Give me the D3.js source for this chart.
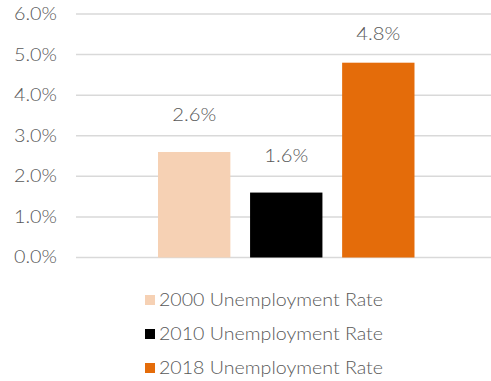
<!DOCTYPE html>
<html>
<head>
<meta charset="utf-8">
<script src="https://cdn.jsdelivr.net/npm/d3@7"></script>
<style>
  html, body { margin: 0; padding: 0; background: #fff; }
  svg text { font-family: "Lato", sans-serif; font-weight: 300; fill: #595959; }
</style>
</head>
<body>
<div id="chart"></div>
<script>
// Unemployment rates (%) by year
const seriesNames = ["2000 Unemployment Rate", "2010 Unemployment Rate", "2018 Unemployment Rate"];
const seriesValues = [2.6, 1.6, 4.8];
const seriesColors = ["#F6D1B4", "#000000", "#E46C0A"];
const yTicks = [0, 1, 2, 3, 4, 5, 6];

const W = 491, H = 381;
const FONT = 17;
const svg = d3.select("#chart").append("svg")
  .attr("width", W).attr("height", H);

const plot = { left: 76, right: 496, top: 14, bottom: 257.5 };

const y = d3.scaleLinear().domain([0, 6]).range([plot.bottom, plot.top]);

// one category; the three series bars are grouped around its center
const x = d3.scaleBand()
  .domain(seriesNames)
  .range([146.5, 426])
  .paddingInner(0.214)
  .paddingOuter(0.125);

// horizontal gridlines
svg.append("g")
  .selectAll("line")
  .data(yTicks)
  .join("line")
  .attr("x1", plot.left).attr("x2", plot.right)
  .attr("y1", d => y(d)).attr("y2", d => y(d))
  .attr("stroke", "#d9d9d9")
  .attr("stroke-width", 1.5);

// y axis labels
const yAxis = d3.axisLeft(y)
  .tickValues(yTicks)
  .tickFormat(d => d3.format(".1f")(d) + "%")
  .tickSize(0)
  .tickPadding(0);
const yg = svg.append("g")
  .attr("transform", `translate(57,0)`)
  .call(yAxis);
yg.select(".domain").remove();
yg.selectAll("text")
  .attr("font-size", FONT)
  .attr("font-family", "Lato, sans-serif")
  .attr("font-weight", 300)
  .attr("fill", "#595959")
  .attr("textLength", 43)
  .attr("lengthAdjust", "spacingAndGlyphs");

// bars
svg.append("g")
  .selectAll("rect")
  .data(seriesValues)
  .join("rect")
  .attr("x", (d, i) => x(seriesNames[i]))
  .attr("width", x.bandwidth())
  .attr("y", d => y(d))
  .attr("height", d => y(0) - y(d))
  .attr("fill", (d, i) => seriesColors[i]);

// value labels above bars
svg.append("g")
  .selectAll("text")
  .data(seriesValues)
  .join("text")
  .attr("x", (d, i) => x(seriesNames[i]) + x.bandwidth() / 2)
  .attr("y", d => Math.max(y(d) - 37, 34))
  .attr("dy", "0.35em")
  .attr("text-anchor", "middle")
  .attr("font-size", FONT)
  .attr("textLength", 44)
  .attr("lengthAdjust", "spacingAndGlyphs")
  .text(d => d3.format(".1f")(d) + "%");

// legend
const legend = svg.append("g")
  .selectAll("g")
  .data(seriesNames)
  .join("g")
  .attr("transform", (d, i) => `translate(145,${300 + i * 34})`);
legend.append("rect")
  .attr("x", 0).attr("y", -5)
  .attr("width", 10).attr("height", 10)
  .attr("fill", (d, i) => seriesColors[i]);
legend.append("text")
  .attr("x", 14)
  .attr("dy", "0.35em")
  .attr("font-size", FONT)
  .attr("textLength", 224)
  .attr("lengthAdjust", "spacingAndGlyphs")
  .text(d => d);
</script>
</body>
</html>
